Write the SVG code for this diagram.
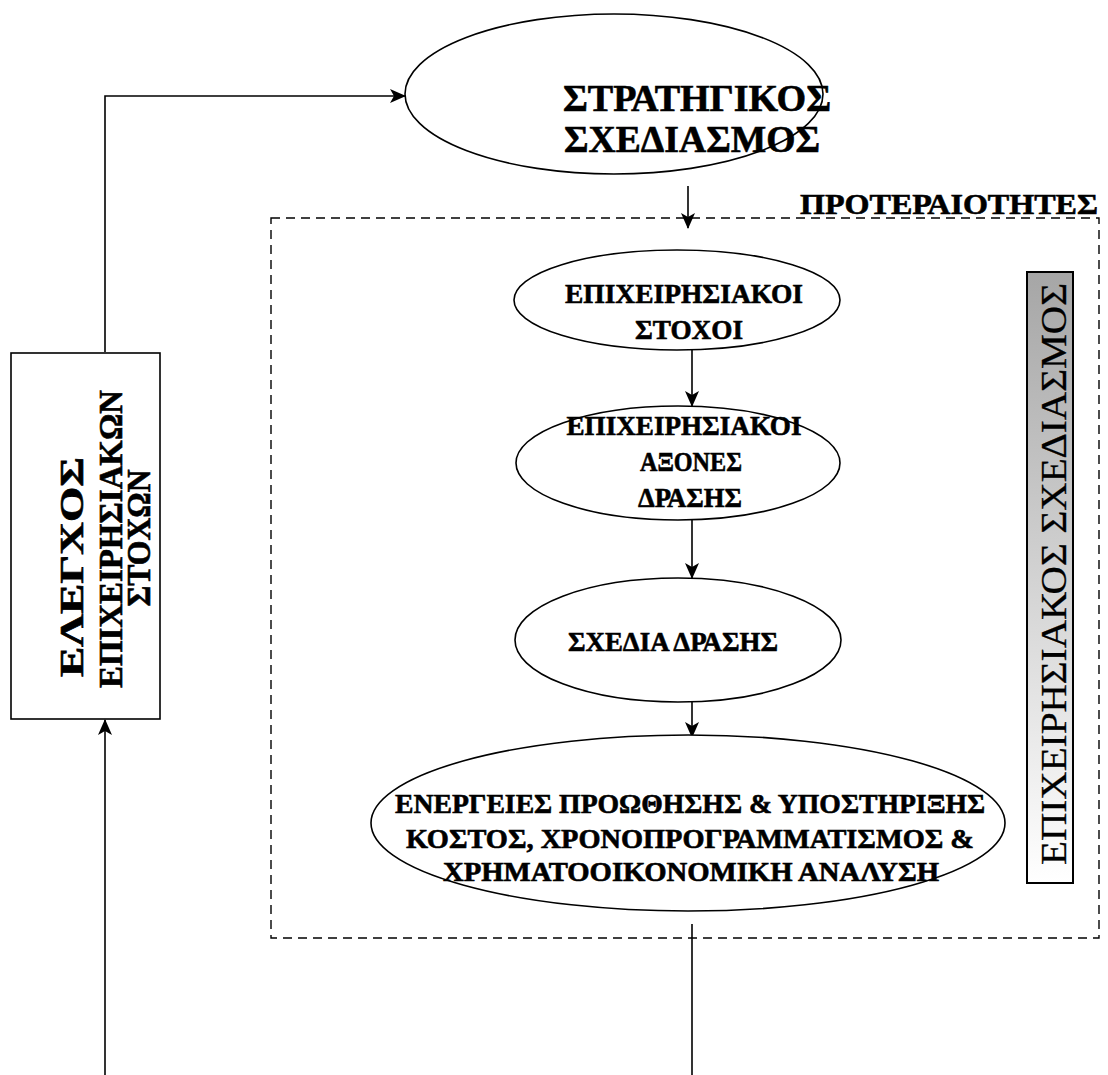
<svg xmlns="http://www.w3.org/2000/svg" width="1108" height="1075" viewBox="0 0 1108 1075">
<style>
.shape{fill:#fff;stroke:#000;stroke-width:1.6}
.t{font-family:"Liberation Serif","Times New Roman",serif;font-weight:bold;fill:#000;stroke:#000;stroke-width:0.6;text-anchor:middle}
.r{font-family:"Liberation Serif","Times New Roman",serif;font-weight:normal;fill:#000;stroke:#000;stroke-width:0.3;text-anchor:middle}
.conn{fill:none;stroke:#000;stroke-width:1.6}
</style>
<defs>
<marker id="arr" markerWidth="16" markerHeight="14" refX="15" refY="7" orient="auto" markerUnits="userSpaceOnUse">
<path d="M0,0 L16,7 L0,14 L4,7 Z" fill="#000"/>
</marker>
<linearGradient id="grad" x1="0" y1="0" x2="0" y2="1">
<stop offset="0" stop-color="#a6a6a6"/>
<stop offset="1" stop-color="#ffffff"/>
</linearGradient>
</defs>

<g id="region">
<rect x="271" y="218" width="828" height="720" fill="none" stroke="#000" stroke-width="1.4" stroke-dasharray="9,6"/>
<text class="t" x="949" y="214" font-size="30" textLength="298" lengthAdjust="spacingAndGlyphs">ΠΡΟΤΕΡΑΙΟΤΗΤΕΣ</text>
</g>

<g id="connectors">
<polyline class="conn" points="105,352 105,96 405,96" marker-end="url(#arr)"/>
<line class="conn" x1="688" y1="186" x2="688" y2="228" marker-end="url(#arr)"/>
<line class="conn" x1="692" y1="350" x2="692" y2="406" marker-end="url(#arr)"/>
<line class="conn" x1="692" y1="520" x2="692" y2="578" marker-end="url(#arr)"/>
<line class="conn" x1="692" y1="702" x2="692" y2="737" marker-end="url(#arr)"/>
<line class="conn" x1="692" y1="924" x2="692" y2="1075"/>
<line class="conn" x1="105" y1="1075" x2="105" y2="720" marker-end="url(#arr)"/>
</g>

<g id="strategic">
<ellipse class="shape" cx="614" cy="94" rx="209" ry="80"/>
<text class="t" x="697" y="111" font-size="37" textLength="268" lengthAdjust="spacingAndGlyphs">ΣΤΡΑΤΗΓΙΚΟΣ</text>
<text class="t" x="692" y="152" font-size="37" textLength="256" lengthAdjust="spacingAndGlyphs">ΣΧΕΔΙΑΣΜΟΣ</text>
</g>

<g id="goals">
<ellipse class="shape" cx="677" cy="300" rx="163" ry="50"/>
<text class="t" x="684" y="303" font-size="28" textLength="238" lengthAdjust="spacingAndGlyphs">ΕΠΙΧΕΙΡΗΣΙΑΚΟΙ</text>
<text class="t" x="689" y="339" font-size="28" textLength="108" lengthAdjust="spacingAndGlyphs">ΣΤΟΧΟΙ</text>
</g>

<g id="axes">
<ellipse class="shape" cx="678" cy="463" rx="162" ry="57"/>
<text class="t" x="684" y="435" font-size="28" textLength="235" lengthAdjust="spacingAndGlyphs">ΕΠΙΧΕΙΡΗΣΙΑΚΟΙ</text>
<text class="t" x="691" y="471" font-size="28" textLength="102" lengthAdjust="spacingAndGlyphs">ΑΞΟΝΕΣ</text>
<text class="t" x="690" y="507" font-size="28" textLength="104" lengthAdjust="spacingAndGlyphs">ΔΡΑΣΗΣ</text>
</g>

<g id="plans">
<ellipse class="shape" cx="678" cy="640" rx="163" ry="62"/>
<text class="t" x="673" y="651" font-size="28" textLength="210" lengthAdjust="spacingAndGlyphs">ΣΧΕΔΙΑ ΔΡΑΣΗΣ</text>
</g>

<g id="actions">
<ellipse class="shape" cx="688" cy="823" rx="317" ry="88"/>
<text class="t" x="690" y="813" font-size="27" textLength="590" lengthAdjust="spacingAndGlyphs">ΕΝΕΡΓΕΙΕΣ ΠΡΟΩΘΗΣΗΣ &amp; ΥΠΟΣΤΗΡΙΞΗΣ</text>
<text class="t" x="690" y="848" font-size="27" textLength="568" lengthAdjust="spacingAndGlyphs">ΚΟΣΤΟΣ, ΧΡΟΝΟΠΡΟΓΡΑΜΜΑΤΙΣΜΟΣ &amp;</text>
<text class="t" x="691" y="881" font-size="27" textLength="496" lengthAdjust="spacingAndGlyphs">ΧΡΗΜΑΤΟΟΙΚΟΝΟΜΙΚΗ ΑΝΑΛΥΣΗ</text>
</g>

<g id="control">
<rect class="shape" x="11" y="353" width="149" height="366"/>
<text class="t" font-size="33" transform="translate(83,567) rotate(-90)" textLength="220" lengthAdjust="spacingAndGlyphs">ΕΛΕΓΧΟΣ</text>
<text class="t" font-size="33" transform="translate(122,539) rotate(-90)" textLength="298" lengthAdjust="spacingAndGlyphs">ΕΠΙΧΕΙΡΗΣΙΑΚΩΝ</text>
<text class="t" font-size="33" transform="translate(150,538) rotate(-90)" textLength="137" lengthAdjust="spacingAndGlyphs">ΣΤΟΧΩΝ</text>
</g>

<g id="operational">
<rect x="1027" y="272" width="46" height="611" fill="url(#grad)" stroke="#000" stroke-width="2"/>
<text class="r" font-size="36" transform="translate(1066,574) rotate(-90)" textLength="582" lengthAdjust="spacingAndGlyphs">ΕΠΙΧΕΙΡΗΣΙΑΚΟΣ ΣΧΕΔΙΑΣΜΟΣ</text>
</g>
</svg>
